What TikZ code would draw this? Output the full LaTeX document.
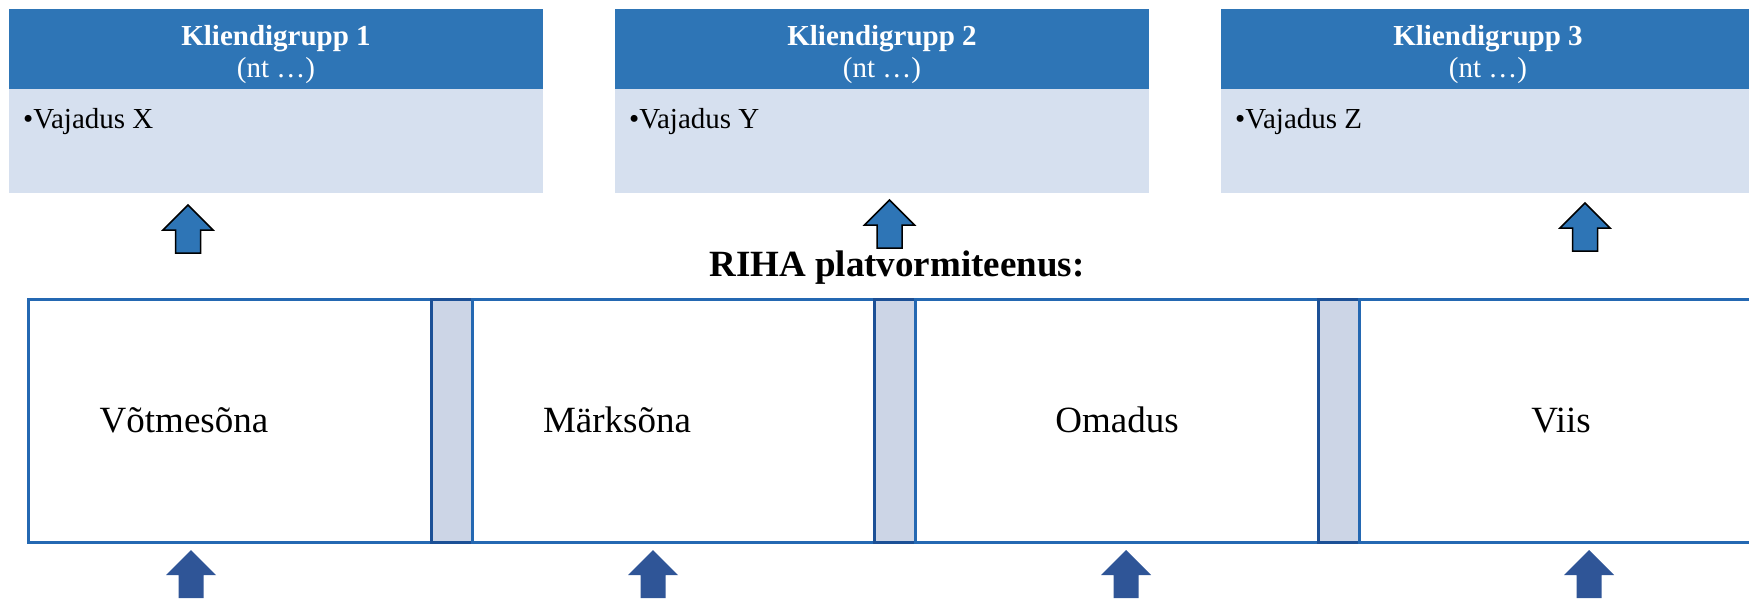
\documentclass[tikz,border=0pt]{standalone}
\usepackage{fontspec}
\setmainfont{Liberation Serif}
\definecolor{hdrblue}{RGB}{46,117,182}
\definecolor{bodyblue}{RGB}{214,224,239}
\definecolor{boxline}{RGB}{36,104,178}
\definecolor{barline}{RGB}{28,80,150}
\definecolor{barfill}{RGB}{204,213,230}
\definecolor{arrdark}{RGB}{47,85,151}
\tikzset{
  hdr/.style={fill=hdrblue, draw=none, minimum width=534pt, minimum height=80pt, anchor=north west, inner sep=0pt},
  bodybox/.style={fill=bodyblue, draw=none, minimum width=534pt, minimum height=104pt, anchor=north west, inner sep=0pt},
  hdrtitle/.style={anchor=base, inner sep=0pt, text=white, font=\fontsize{29}{33}\selectfont\bfseries},
  hdrsub/.style={anchor=base, inner sep=0pt, text=white, font=\fontsize{29}{33}\selectfont},
  needtext/.style={anchor=base west, inner sep=0pt, font=\fontsize{29}{33}\selectfont},
  maintitle/.style={anchor=base, inner sep=0pt, font=\fontsize{37}{40}\selectfont\bfseries},
  svcbox/.style={draw=boxline, line width=2.8pt, fill=white, minimum width=403pt, minimum height=243pt, anchor=north west, inner sep=0pt},
  barbox/.style={draw=barline, line width=2.8pt, fill=barfill, minimum width=41pt, minimum height=243pt, anchor=north west, inner sep=0pt},
  svctext/.style={anchor=base, inner sep=0pt, font=\fontsize{37}{40}\selectfont},
  toparr/.style={fill=hdrblue, draw=black, line width=1.5pt},
  botarr/.style={fill=arrdark, draw=none},
  uparrow/.pic={\path[pic actions] (0,0) -- (25,25) -- (12.5,25) -- (12.5,48) -- (-12.5,48) -- (-12.5,25) -- (-25,25) -- cycle;}
}
\begin{document}
\begin{tikzpicture}[x=1pt,y=-1pt]
\useasboundingbox (0,0) rectangle (1749,598);
\clip (0,0) rectangle (1749,598);
% client groups
\node[hdr] (h1) at (9,9) {};
\node[bodybox] (b1) at (9,89) {};
\node[hdr] (h2) at (615,9) {};
\node[bodybox] (b2) at (615,89) {};
\node[hdr] (h3) at (1221,9) {};
\node[bodybox] (b3) at (1221,89) {};
\node[hdrtitle] (k1) at (276,45) {Kliendigrupp 1};
\node[hdrsub] (n1) at (276,77) {(nt …)};
\node[hdrtitle] (k2) at (882,45) {Kliendigrupp 2};
\node[hdrsub] (n2) at (882,77) {(nt …)};
\node[hdrtitle] (k3) at (1488,45) {Kliendigrupp 3};
\node[hdrsub] (n3) at (1488,77) {(nt …)};
\node[needtext] (v1) at (23,128) {•Vajadus X};
\node[needtext] (v2) at (629,128) {•Vajadus Y};
\node[needtext] (v3) at (1235,128) {•Vajadus Z};
% top arrows
\pic[toparr] at (188,205) {uparrow};
\pic[toparr] at (889.5,200) {uparrow};
\pic[toparr] at (1585,203) {uparrow};
% title
\node[maintitle] (title) at (897,276) {RIHA platvormiteenus:};
% service boxes
\node[svcbox] (sA) at (27,298) {};
\node[barbox] (g1) at (430,298) {};
\node[svcbox] (sB) at (471,298) {};
\node[barbox] (g2) at (873,298) {};
\node[svcbox] (sC) at (914,298) {};
\node[barbox] (g3) at (1317,298) {};
\node[svcbox] (sD) at (1358,298) {};
\node[svctext] (tA) at (184,432) {Võtmesõna};
\node[svctext] (tB) at (617,432) {Märksõna};
\node[svctext] (tC) at (1117,432) {Omadus};
\node[svctext] (tD) at (1561,432) {Viis};
% bottom arrows
\pic[botarr] at (191,550) {uparrow};
\pic[botarr] at (653,550) {uparrow};
\pic[botarr] at (1126,550) {uparrow};
\pic[botarr] at (1589,550) {uparrow};
\end{tikzpicture}
\end{document}
